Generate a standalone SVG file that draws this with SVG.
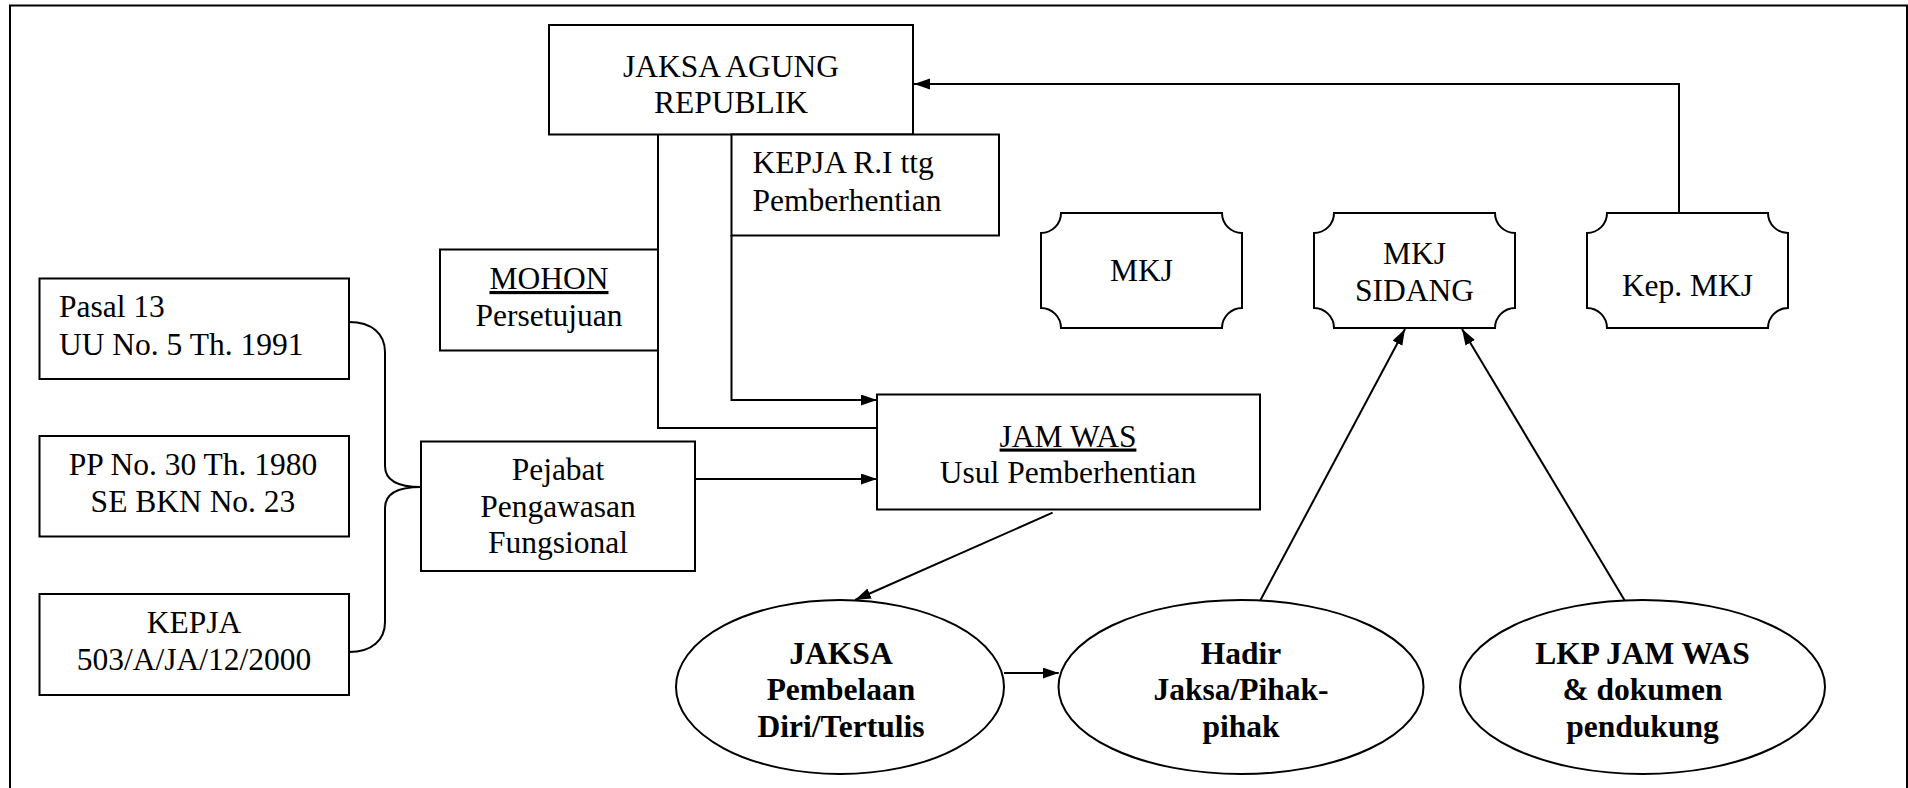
<svg xmlns="http://www.w3.org/2000/svg" width="1908" height="788" viewBox="0 0 1908 788">
<style>
.box{fill:#fff;stroke:#000;stroke-width:2}
.ln{fill:none;stroke:#000;stroke-width:2}
.t{font-family:"Liberation Serif","Times New Roman",serif;font-size:31.5px;fill:#000}
.c{text-anchor:middle}
.b{font-weight:bold}
.u{text-decoration:underline}
</style>
<defs>
<marker id="ah" markerUnits="userSpaceOnUse" markerWidth="17" markerHeight="12" refX="16" refY="5.5" orient="auto">
<path d="M0,0 L16,5.5 L0,11 Z" fill="#000"/>
</marker>
</defs>
<rect width="1908" height="788" fill="#fff"/>
<g id="frame">
<path class="ln" d="M10,788 L10,5.5 L1907,5.5 L1907,788"/>
</g>
<g id="connectors">
<path class="ln" d="M1679,213 L1679,84 L914,84" marker-end="url(#ah)"/>
<path class="ln" d="M658,134.5 L658,428 L877,428"/>
<path class="ln" d="M731.5,235 L731.5,400 L877,400" marker-end="url(#ah)"/>
<path class="ln" d="M695,479 L877,479" marker-end="url(#ah)"/>
<path class="ln" d="M1052.6,512.7 L855,600" marker-end="url(#ah)"/>
<path class="ln" d="M1004,673 L1058.7,673" marker-end="url(#ah)"/>
<path class="ln" d="M1260,601 L1405,329" marker-end="url(#ah)"/>
<path class="ln" d="M1625,601 L1462,329" marker-end="url(#ah)"/>
<path class="ln" d="M349,322 C372,322 385,334 385,352 L385,466 C385,480 398,487 421,487 C398,487 385,494 385,508 L385,622 C385,640 372,652 349,652"/>
</g>
<g id="jaksa-agung">
<rect class="box" x="549" y="25" width="364" height="109.5"/>
<text class="t c" x="731" y="77">JAKSA AGUNG</text>
<text class="t c" x="731" y="113">REPUBLIK</text>
</g>
<g id="kepja-ri">
<rect class="box" x="731.5" y="134.5" width="267.5" height="101"/>
<text class="t" x="752.5" y="173">KEPJA R.I ttg</text>
<text class="t" x="752.5" y="210.5">Pemberhentian</text>
</g>
<g id="mohon">
<rect class="box" x="440" y="249.5" width="218" height="101"/>
<text class="t c u" x="549" y="289">MOHON</text>
<text class="t c" x="549" y="326">Persetujuan</text>
</g>
<g id="pasal">
<rect class="box" x="39.5" y="278.5" width="309.5" height="100.5"/>
<text class="t" x="59" y="317">Pasal 13</text>
<text class="t" x="59" y="355">UU No. 5 Th. 1991</text>
</g>
<g id="pp">
<rect class="box" x="39.5" y="436" width="309.5" height="100.5"/>
<text class="t c" x="193" y="475">PP No. 30 Th. 1980</text>
<text class="t c" x="193" y="511.5">SE BKN No. 23</text>
</g>
<g id="kepja-503">
<rect class="box" x="39.5" y="594" width="309.5" height="101"/>
<text class="t c" x="194" y="633">KEPJA</text>
<text class="t c" x="194" y="670">503/A/JA/12/2000</text>
</g>
<g id="pejabat">
<rect class="box" x="421" y="441.5" width="274" height="129.5"/>
<text class="t c" x="558" y="480">Pejabat</text>
<text class="t c" x="558" y="516.5">Pengawasan</text>
<text class="t c" x="558" y="553">Fungsional</text>
</g>
<g id="jam-was">
<rect class="box" x="877" y="394.5" width="383" height="115"/>
<text class="t c u" x="1068" y="446.5">JAM WAS</text>
<text class="t c" x="1068" y="483">Usul Pemberhentian</text>
</g>
<g id="mkj">
<path class="box" d="M1061,213 L1222,213 A20,20 0 0 0 1242,233 L1242,308 A20,20 0 0 0 1222,328 L1061,328 A20,20 0 0 0 1041,308 L1041,233 A20,20 0 0 0 1061,213 Z"/>
<text class="t c" x="1141.5" y="281">MKJ</text>
</g>
<g id="mkj-sidang">
<path class="box" d="M1334,213 L1495,213 A20,20 0 0 0 1515,233 L1515,308 A20,20 0 0 0 1495,328 L1334,328 A20,20 0 0 0 1314,308 L1314,233 A20,20 0 0 0 1334,213 Z"/>
<text class="t c" x="1414.5" y="264">MKJ</text>
<text class="t c" x="1414.5" y="300.5">SIDANG</text>
</g>
<g id="kep-mkj">
<path class="box" d="M1607,213 L1768,213 A20,20 0 0 0 1788,233 L1788,308 A20,20 0 0 0 1768,328 L1607,328 A20,20 0 0 0 1587,308 L1587,233 A20,20 0 0 0 1607,213 Z"/>
<text class="t c" x="1687.5" y="296">Kep. MKJ</text>
</g>
<g id="jaksa-pembelaan">
<ellipse class="box" cx="840" cy="687" rx="164" ry="87"/>
<text class="t c b" x="841" y="664">JAKSA</text>
<text class="t c b" x="841" y="700">Pembelaan</text>
<text class="t c b" x="841" y="737">Diri/Tertulis</text>
</g>
<g id="hadir">
<ellipse class="box" cx="1241" cy="687" rx="182.5" ry="87"/>
<text class="t c b" x="1241" y="664">Hadir</text>
<text class="t c b" x="1241" y="700">Jaksa/Pihak-</text>
<text class="t c b" x="1241" y="737">pihak</text>
</g>
<g id="lkp">
<ellipse class="box" cx="1642.5" cy="687" rx="182.5" ry="87"/>
<text class="t c b" x="1642.5" y="664">LKP JAM WAS</text>
<text class="t c b" x="1642.5" y="700">&amp; dokumen</text>
<text class="t c b" x="1642.5" y="737">pendukung</text>
</g>
</svg>
